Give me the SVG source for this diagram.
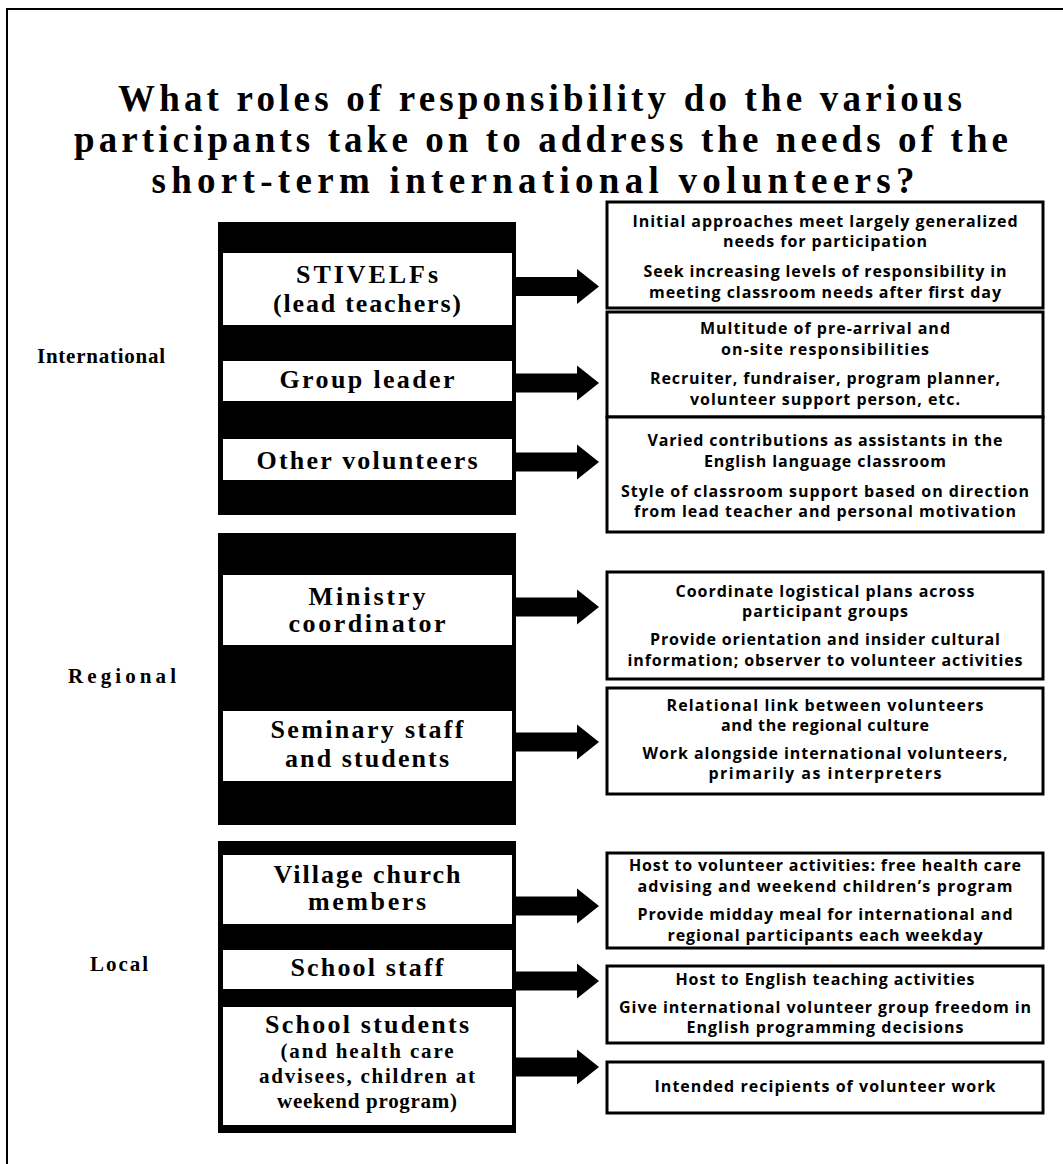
<svg xmlns="http://www.w3.org/2000/svg" xmlns:xlink="http://www.w3.org/1999/xlink" width="1063" height="1164" viewBox="0 0 1063 1164">
<style>
.title{font-family:"Liberation Serif","Times New Roman",serif;font-weight:700;font-size:37px;fill:#000;text-anchor:middle}
.tier{font-family:"Liberation Serif","Times New Roman",serif;font-weight:700;font-size:21px;fill:#000}
.role{font-family:"Liberation Serif","Times New Roman",serif;font-weight:700;font-size:26px;fill:#000;text-anchor:middle}
.roles{font-family:"Liberation Serif","Times New Roman",serif;font-weight:700;font-size:21px;fill:#000;text-anchor:middle}
.desc{font-family:"Open Sans","Liberation Sans",sans-serif;font-weight:700;font-size:16px;fill:#000;text-anchor:middle}
.blk{fill:#000}
.wbox{fill:#fff}
.rbox{fill:#fff;stroke:#000;stroke-width:3}
.arrow{fill:#000}
</style>
<defs>
<path id="arr" d="M516,-9.5 H577 V-17.5 L599,0 L577,17.5 V9.5 H516 Z"/>
</defs>
<rect width="1063" height="1164" fill="#fff"/>
<path d="M7,1164 V9 H1063" fill="none" stroke="#000" stroke-width="2"/>

<g id="title">
<text class="title" x="540" y="111" textLength="844">What roles of responsibility do the various</text>
<text class="title" x="541" y="152" textLength="934">participants take on to address the needs of the</text>
<text class="title" x="533" y="193" textLength="763">short-term international volunteers?</text>
</g>

<g id="tier-international">
<text class="tier" x="37" y="363" textLength="128">International</text>
</g>
<g id="tier-regional">
<text class="tier" x="68" y="683" textLength="108">Regional</text>
</g>
<g id="tier-local">
<text class="tier" x="90" y="971" textLength="58">Local</text>
</g>

<g id="block-international">
<rect class="blk" x="218" y="222" width="298" height="293"/>
</g>
<g id="block-regional">
<rect class="blk" x="218" y="533" width="298" height="292"/>
</g>
<g id="block-local">
<rect class="blk" x="218" y="841" width="298" height="292"/>
</g>

<g id="node-stivelfs">
<rect class="wbox" x="223" y="253" width="289" height="72"/>
<text class="role" x="367" y="283" textLength="142">STIVELFs</text>
<text class="role" x="367" y="312" textLength="188">(lead teachers)</text>
</g>
<g id="node-group-leader">
<rect class="wbox" x="223" y="361" width="289" height="40"/>
<text class="role" x="367" y="388" textLength="175">Group leader</text>
</g>
<g id="node-other-volunteers">
<rect class="wbox" x="223" y="439" width="289" height="41"/>
<text class="role" x="367" y="469" textLength="221">Other volunteers</text>
</g>
<g id="node-ministry">
<rect class="wbox" x="223" y="575" width="289" height="70"/>
<text class="role" x="367" y="605" textLength="117">Ministry</text>
<text class="role" x="367" y="632" textLength="157">coordinator</text>
</g>
<g id="node-seminary">
<rect class="wbox" x="223" y="711" width="289" height="70"/>
<text class="role" x="367" y="738" textLength="193">Seminary staff</text>
<text class="role" x="367" y="767" textLength="164">and students</text>
</g>
<g id="node-village">
<rect class="wbox" x="223" y="855" width="289" height="69"/>
<text class="role" x="367" y="883" textLength="187">Village church</text>
<text class="role" x="367" y="910" textLength="118">members</text>
</g>
<g id="node-school-staff">
<rect class="wbox" x="223" y="950" width="289" height="39"/>
<text class="role" x="367" y="976" textLength="153">School staff</text>
</g>
<g id="node-school-students">
<rect class="wbox" x="223" y="1007" width="289" height="118"/>
<text class="role" x="367" y="1033" textLength="204">School students</text>
<text class="roles" x="367" y="1058" textLength="173">(and health care</text>
<text class="roles" x="367" y="1083" textLength="216">advisees, children at</text>
<text class="roles" x="367" y="1108" textLength="180">weekend program)</text>
</g>

<g id="resp-stivelfs">
<rect class="rbox" x="607" y="202" width="436" height="106"/>
<text class="desc" x="825" y="227" textLength="385">Initial approaches meet largely generalized</text>
<text class="desc" x="825" y="247" textLength="204">needs for participation</text>
<text class="desc" x="825" y="277" textLength="363">Seek increasing levels of responsibility in</text>
<text class="desc" x="825" y="298" textLength="352">meeting classroom needs after first day</text>
</g>
<g id="resp-group-leader">
<rect class="rbox" x="607" y="312" width="436" height="105"/>
<text class="desc" x="825" y="334" textLength="250">Multitude of pre-arrival and</text>
<text class="desc" x="825" y="355" textLength="208">on-site responsibilities</text>
<text class="desc" x="825" y="384" textLength="350">Recruiter, fundraiser, program planner,</text>
<text class="desc" x="825" y="405" textLength="270">volunteer support person, etc.</text>
</g>
<g id="resp-other-volunteers">
<rect class="rbox" x="607" y="417" width="436" height="115"/>
<text class="desc" x="825" y="446" textLength="355">Varied contributions as assistants in the</text>
<text class="desc" x="825" y="467" textLength="242">English language classroom</text>
<text class="desc" x="825" y="497" textLength="408">Style of classroom support based on direction</text>
<text class="desc" x="825" y="517" textLength="382">from lead teacher and personal motivation</text>
</g>
<g id="resp-ministry">
<rect class="rbox" x="607" y="572" width="436" height="107"/>
<text class="desc" x="825" y="597" textLength="299">Coordinate logistical plans across</text>
<text class="desc" x="825" y="617" textLength="166">participant groups</text>
<text class="desc" x="825" y="645" textLength="350">Provide orientation and insider cultural</text>
<text class="desc" x="825" y="666" textLength="395">information; observer to volunteer activities</text>
</g>
<g id="resp-seminary">
<rect class="rbox" x="607" y="688" width="436" height="106"/>
<text class="desc" x="825" y="711" textLength="317">Relational link between volunteers</text>
<text class="desc" x="825" y="731" textLength="208">and the regional culture</text>
<text class="desc" x="825" y="759" textLength="365">Work alongside international volunteers,</text>
<text class="desc" x="825" y="779" textLength="233">primarily as interpreters</text>
</g>
<g id="resp-village">
<rect class="rbox" x="607" y="853" width="436" height="95"/>
<text class="desc" x="825" y="871" textLength="392">Host to volunteer activities: free health care</text>
<text class="desc" x="825" y="892" textLength="375">advising and weekend children’s program</text>
<text class="desc" x="825" y="920" textLength="375">Provide midday meal for international and</text>
<text class="desc" x="825" y="941" textLength="315">regional participants each weekday</text>
</g>
<g id="resp-school-staff">
<rect class="rbox" x="607" y="966" width="436" height="77"/>
<text class="desc" x="825" y="985" textLength="299">Host to English teaching activities</text>
<text class="desc" x="825" y="1013" textLength="412">Give international volunteer group freedom in</text>
<text class="desc" x="825" y="1033" textLength="277">English programming decisions</text>
</g>
<g id="resp-school-students">
<rect class="rbox" x="607" y="1062" width="436" height="51"/>
<text class="desc" x="825" y="1092" textLength="341">Intended recipients of volunteer work</text>
</g>

<g id="connectors">
<use xlink:href="#arr" class="arrow" transform="translate(0,286.5)"/>
<use xlink:href="#arr" class="arrow" transform="translate(0,383)"/>
<use xlink:href="#arr" class="arrow" transform="translate(0,462)"/>
<use xlink:href="#arr" class="arrow" transform="translate(0,607)"/>
<use xlink:href="#arr" class="arrow" transform="translate(0,742)"/>
<use xlink:href="#arr" class="arrow" transform="translate(0,906)"/>
<use xlink:href="#arr" class="arrow" transform="translate(0,981)"/>
<use xlink:href="#arr" class="arrow" transform="translate(0,1067)"/>
</g>
</svg>
